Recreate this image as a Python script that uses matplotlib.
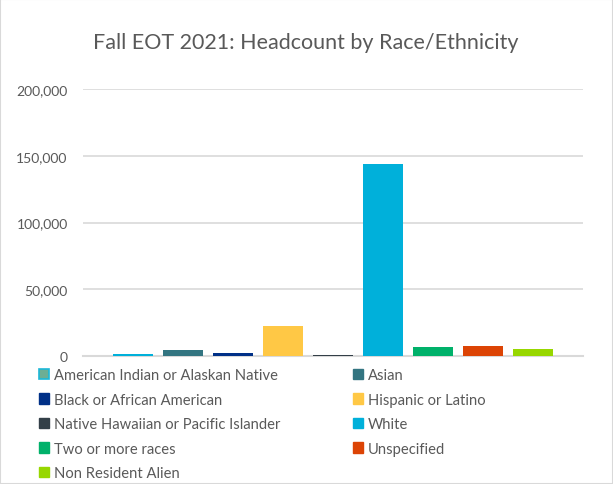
import matplotlib
matplotlib.use("Agg")
import matplotlib.pyplot as plt
from matplotlib.patches import Patch, Rectangle
from matplotlib.ticker import FuncFormatter

plt.rcParams['font.family'] = ['Lato', 'DejaVu Sans']

# =========================
# DATA
# =========================
groups = ['American Indian or Alaskan Native', 'Asian', 'Black or African American',
          'Hispanic or Latino', 'Native Hawaiian or Pacific Islander', 'White',
          'Two or more races', 'Unspecified', 'Non Resident Alien']
headcount = [1800, 4500, 2300, 22800, 700, 144000, 6700, 7500, 5200]
colors = ['#00B0DA', '#337581', '#003087', '#FFC845', '#333F48',
          '#00B0DA', '#00B16A', '#DC4405', '#97D700']
yticks = [0, 50000, 100000, 150000, 200000]

TXT = '#595959'
GRID = '#D9D9D9'

fig = plt.figure(figsize=(6.13, 4.85), dpi=100)
ax = fig.add_axes([83/613, 128/485, 500/613, 267/485])

x = list(range(len(groups)))
ax.bar(x, headcount, width=0.8, color=colors, zorder=3)

ax.set_xlim(-1, 9)
ax.set_ylim(0, 200000)
ax.set_yticks(yticks)
ax.yaxis.set_major_formatter(FuncFormatter(lambda v, p: f'{int(v):,}'))
ax.set_xticks([])
ax.tick_params(axis='y', length=0, pad=11, labelsize=10, labelcolor=TXT)
ax.grid(axis='y', color=GRID, linewidth=1.2, zorder=0)
for s in ['top', 'right', 'left']:
    ax.spines[s].set_visible(False)
ax.spines['bottom'].set_color(GRID)
ax.spines['bottom'].set_linewidth(1.5)

fig.text(306/613, 1 - 43/485, 'Fall EOT 2021: Headcount by Race/Ethnicity',
         ha='center', va='center', fontsize=15.5, color=TXT)

# legend, filled row by row
handles = [Patch(facecolor=c, edgecolor=c) for c in colors]
handles[0] = Patch(facecolor='#6DAE94', edgecolor='#1CB8D8', linewidth=1.2)
order = [0, 2, 4, 6, 8, 1, 3, 5, 7]
fig.legend([handles[i] for i in order], [groups[i] for i in order],
           ncol=2, loc='upper left', bbox_to_anchor=(39/613, 1 - 369/485),
           frameon=False, fontsize=10.6, labelcolor=TXT,
           handlelength=0.7, handleheight=0.7, handletextpad=0.3,
           columnspacing=4.95, labelspacing=0.72, borderpad=0, borderaxespad=0)

fig.patches.append(Rectangle((0, 0), 1, 1, transform=fig.transFigure,
                             fill=False, edgecolor=GRID, linewidth=1.5))

fig.savefig('out.png', dpi=100)
